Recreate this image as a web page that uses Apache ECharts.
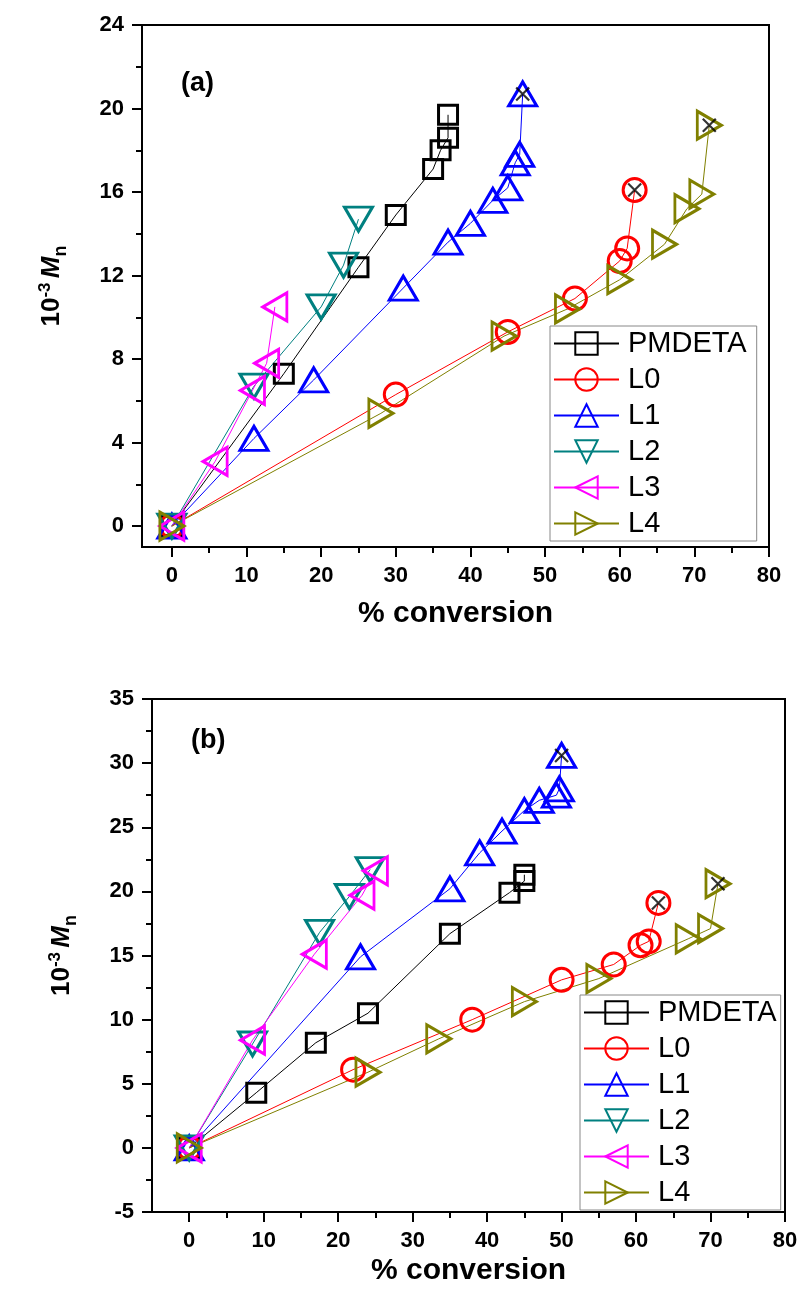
<!DOCTYPE html>
<html>
<head>
<meta charset="utf-8">
<script src="https://cdn.jsdelivr.net/npm/echarts@6/dist/echarts.min.js"></script>
<style>
  html, body { margin: 0; padding: 0; background: #fff; }
  #chart { width: 799px; height: 1289px; }
</style>
</head>
<body>
<div id="chart"></div>
<script>
// ---- data: [% conversion, 10^-3 Mn] ----
const seriesNames = ['PMDETA', 'L0', 'L1', 'L2', 'L3', 'L4'];

// panel (a)
const pmdetaA = [[0, 0], [15, 7.3], [25, 12.4], [30, 14.9], [35, 17.1], [36, 18.0], [37, 18.6], [37, 19.7]];
const l0A = [[0, 0], [30, 6.3], [45, 9.3], [54, 10.9], [60, 12.7], [61, 13.3], [62, 16.1]];
const l1A = [[0, 0], [11, 4.2], [19, 7.0], [31, 11.4], [37, 13.6], [40, 14.5], [43, 15.6], [45, 16.2], [46, 17.4], [46.6, 17.8], [47, 20.7]];
const l2A = [[0, 0], [11, 6.7], [20, 10.5], [23, 12.5], [25, 14.7]];
const l3A = [[0, 0], [5.8, 3.1], [10.8, 6.5], [12.7, 7.8], [13.8, 10.5]];
const l4A = [[0, 0], [28, 5.4], [44.5, 9.1], [53, 10.4], [60, 11.8], [66, 13.5], [69, 15.2], [71, 15.9], [72, 19.2]];

// panel (b)
const pmdetaB = [[0, 0], [9, 4.3], [17, 8.2], [24, 10.5], [35, 16.7], [43, 19.9], [45, 20.8], [45, 21.3]];
const l0B = [[0, 0], [22, 6.1], [38, 10.0], [50, 13.1], [57, 14.3], [60.6, 15.8], [61.7, 16.1], [63, 19.1]];
const l1B = [[0, 0], [23, 14.9], [35, 20.2], [39, 23.0], [42, 24.7], [45, 26.3], [47, 27.1], [49.3, 27.5], [49.7, 28.0], [50, 30.6]];
const l2B = [[0, 0], [8.5, 8.1], [17.5, 16.8], [21.5, 19.6], [24.3, 21.7]];
const l3B = [[0, 0], [8.5, 8.4], [16.8, 15.1], [23.2, 19.7], [25, 21.6]];
const l4B = [[0, 0], [24, 5.9], [33.5, 8.5], [45, 11.4], [55, 13.2], [67, 16.3], [70, 17.1], [71, 20.6]];

// ---- tick labels ----
const xTicks = [0, 10, 20, 30, 40, 50, 60, 70, 80];
const xMinor = [5, 15, 25, 35, 45, 55, 65, 75];
const yTicksA = [0, 4, 8, 12, 16, 20, 24];
const yMinorA = [2, 6, 10, 14, 18, 22];

// ---- styling ----
const FONT = '"Liberation Sans", Arial, sans-serif';
const styles = {
  PMDETA: { color: '#000000', symbol: 'rect', size: 19, rotate: 0 },
  L0: { color: '#ff0000', symbol: 'circle', size: 23, rotate: 0 },
  L1: { color: '#0000ff', symbol: 'triangle', size: [28, 24], rotate: 0 },
  L2: { color: '#008080', symbol: 'triangle', size: [28, 24], rotate: 180 },
  L3: { color: '#ff00ff', symbol: 'triangle', size: [28, 24], rotate: 90 },
  L4: { color: '#808000', symbol: 'triangle', size: [28, 24], rotate: -90 }
};

function lineSeries(name, pts, axisIdx) {
  const s = styles[name];
  return {
    type: 'line', name, data: pts,
    xAxisIndex: axisIdx, yAxisIndex: axisIdx,
    symbol: s.symbol, symbolSize: s.size, symbolRotate: s.rotate,
    showAllSymbol: true,
    lineStyle: { color: s.color, width: 1 },
    itemStyle: { color: 'rgba(0,0,0,0)', borderColor: s.color, borderWidth: 3 },
    emphasis: { disabled: true },
    animation: false
  };
}

// black crosses drawn on the final point of L0, L1 and L4
function crossSeries(lists, axisIdx) {
  return {
    type: 'scatter',
    xAxisIndex: axisIdx, yAxisIndex: axisIdx,
    data: lists.map(l => l[l.length - 1]),
    symbol: 'path://M0,0L10,10M10,0L0,10',
    symbolSize: 13,
    itemStyle: { color: 'rgba(0,0,0,0)', borderColor: '#000', borderWidth: 2.2 },
    z: 5, silent: true, animation: false
  };
}

const tickLabel = { color: '#000', fontFamily: FONT, fontWeight: 'bold', fontSize: 22 };
const axisLine = { show: true, onZero: false, lineStyle: { color: '#000', width: 2 } };
const yName = '{n|10}{sup|-3} {m|M}{sub|n}';
const yNameStyle = {
  color: '#000', fontFamily: FONT, fontWeight: 'bold',
  rich: {
    n: { fontSize: 26, fontWeight: 'bold', fontFamily: FONT, color: '#000', verticalAlign: 'bottom', padding: [0, 0, 5, 0] },
    sup: { fontSize: 17, fontWeight: 'bold', fontFamily: FONT, color: '#000', verticalAlign: 'bottom', padding: [0, 1, 16, 0] },
    m: { fontSize: 26, fontStyle: 'italic', fontWeight: 'bold', fontFamily: FONT, color: '#000', verticalAlign: 'bottom', padding: [0, 0, 5, 0] },
    sub: { fontSize: 18, fontWeight: 'bold', fontFamily: FONT, color: '#000', verticalAlign: 'bottom', padding: [0, 0, 0, 0] }
  }
};
const xNameStyle = { color: '#000', fontFamily: FONT, fontWeight: 'bold', fontSize: 30 };

function mainX(gridIndex, min, gap) {
  return {
    type: 'value', gridIndex, min, max: 80,
    axisLine, splitLine: { show: false },
    axisTick: { show: true, customValues: xTicks, length: 10, lineStyle: { color: '#000', width: 2 } },
    axisLabel: Object.assign({ customValues: xTicks, margin: 18 }, tickLabel),
    name: '% conversion', nameLocation: 'middle', nameGap: gap, nameTextStyle: xNameStyle,
    nameMoveOverlap: false
  };
}
function minorX(gridIndex, min) {
  return {
    type: 'value', gridIndex, min, max: 80, position: 'bottom',
    axisLine: { show: false, onZero: false }, splitLine: { show: false }, axisLabel: { show: false },
    axisTick: { show: true, customValues: xMinor, length: 6, lineStyle: { color: '#000', width: 2 } }
  };
}

function legendAt(left, top, padRight) {
  return {
    left, top,
    orient: 'vertical',
    data: seriesNames,
    itemWidth: 65, itemHeight: 28, itemGap: 7,
    backgroundColor: '#fff',
    borderColor: '#888', borderWidth: 1, borderRadius: 0,
    padding: [3, padRight, 3, 3],
    selectedMode: false,
    textStyle: { color: '#000', fontFamily: FONT, fontSize: 29, lineHeight: 28, padding: [0, 0, 0, 4] }
  };
}

const option = {
  backgroundColor: '#fff',
  animation: false,
  grid: [
    { left: 142, top: 25, width: 627, height: 522, show: true, borderColor: '#000', borderWidth: 2, outerBoundsMode: 'none', containLabel: false },
    { left: 152, top: 699, width: 633, height: 513, show: true, borderColor: '#000', borderWidth: 2, outerBoundsMode: 'none', containLabel: false }
  ],
  xAxis: [
    mainX(0, -4, 52),
    minorX(0, -4),
    mainX(1, -5, 44),
    minorX(1, -5)
  ],
  yAxis: [
    {
      type: 'value', gridIndex: 0, min: -1, max: 24,
      axisLine, splitLine: { show: false },
      axisTick: { show: true, customValues: yTicksA, length: 10, lineStyle: { color: '#000', width: 2 } },
      axisLabel: Object.assign({ customValues: yTicksA, margin: 18 }, tickLabel),
      name: yName, nameLocation: 'middle', nameRotate: 90, nameGap: 72, nameTextStyle: yNameStyle,
      nameMoveOverlap: false
    },
    {
      type: 'value', gridIndex: 0, min: -1, max: 24, position: 'left',
      axisLine: { show: false, onZero: false }, splitLine: { show: false }, axisLabel: { show: false },
      axisTick: { show: true, customValues: yMinorA, length: 6, lineStyle: { color: '#000', width: 2 } }
    },
    {
      type: 'value', gridIndex: 1, min: -5, max: 35, interval: 5,
      axisLine, splitLine: { show: false },
      axisTick: { show: true, length: 10, lineStyle: { color: '#000', width: 2 } },
      minorTick: { show: true, splitNumber: 2, length: 6, lineStyle: { color: '#000', width: 2 } },
      axisLabel: Object.assign({ margin: 18 }, tickLabel),
      name: yName, nameLocation: 'middle', nameRotate: 90, nameGap: 72, nameTextStyle: yNameStyle,
      nameMoveOverlap: false
    },
    {
      type: 'value', gridIndex: 1, min: -5, max: 35, position: 'left', show: false
    }
  ],
  legend: [
    legendAt(550, 326, 10),
    legendAt(580, 995, 4)
  ],
  graphic: [
    { type: 'text', left: 181, top: 70, style: { text: '(a)', font: 'bold 27px ' + FONT, fill: '#000' } },
    { type: 'text', left: 191, top: 727, style: { text: '(b)', font: 'bold 27px ' + FONT, fill: '#000' } }
  ],
  series: [
    lineSeries('PMDETA', pmdetaA, 0),
    lineSeries('L0', l0A, 0),
    lineSeries('L1', l1A, 0),
    lineSeries('L2', l2A, 0),
    lineSeries('L3', l3A, 0),
    lineSeries('L4', l4A, 0),
    crossSeries([l0A, l1A, l4A], 0),
    lineSeries('PMDETA', pmdetaB, 2),
    lineSeries('L0', l0B, 2),
    lineSeries('L1', l1B, 2),
    lineSeries('L2', l2B, 2),
    lineSeries('L3', l3B, 2),
    lineSeries('L4', l4B, 2),
    crossSeries([l0B, l1B, l4B], 2)
  ]
};

const chart = echarts.init(document.getElementById('chart'), null, { renderer: 'canvas' });
chart.setOption(option);
</script>
</body>
</html>
